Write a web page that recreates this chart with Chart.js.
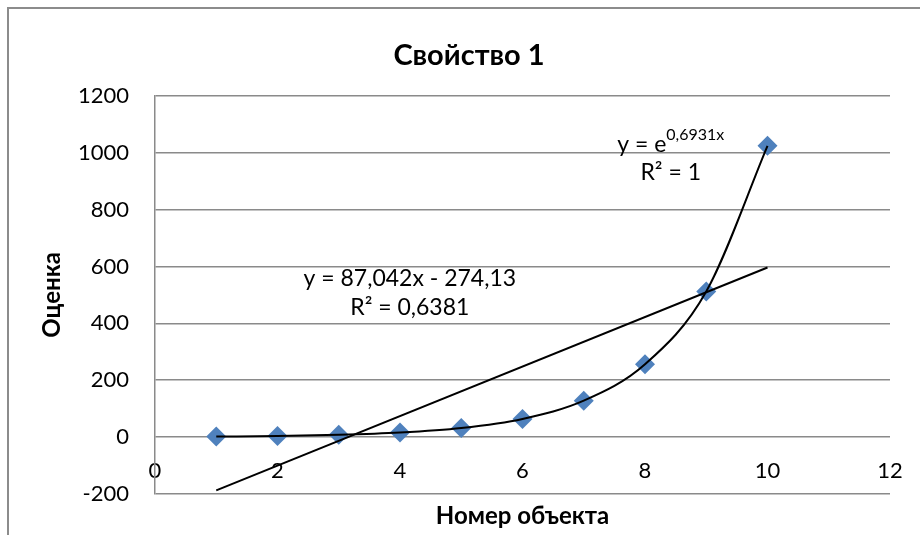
<!DOCTYPE html>
<html>
<head>
<meta charset="utf-8">
<script src="https://cdn.jsdelivr.net/npm/chart.js@4.4.1/dist/chart.umd.min.js"></script>
<style>
  body { margin: 0; background: #fff; }
  #wrap { position: relative; width: 920px; height: 535px; overflow: hidden; }
  #frame { position: absolute; left: 7px; top: 7px; width: 1000px; height: 1000px;
           border-left: 2px solid #8c8c8c; border-top: 2px solid #8c8c8c; }
  canvas { position: absolute; left: 0; top: 0; }
</style>
</head>
<body>
<div id="wrap">
  <div id="frame"></div>
  <canvas id="chart" width="920" height="535"></canvas>
</div>
<script>
// data
const objectNumbers = [1, 2, 3, 4, 5, 6, 7, 8, 9, 10];
const scores = [2, 4, 8, 16, 32, 64, 128, 256, 512, 1024];

// axis ranges
const xMin = 0, xMax = 12, xStep = 2;
const yMin = -200, yMax = 1200, yStep = 200;

// trendline equations as printed on the chart
const linSlope = 87.042;
const linIntercept = -274.13;
const linR2 = 0.6381;
const expCoef = 0.6931;
const expR2 = 1;

const FONT = "Lato, 'Open Sans', sans-serif";
const GRID = '#8a8a8a';
const TXT = 23;

const num = v => String(v).replace('.', ',');

const linFirst = objectNumbers[0];
const linLast = objectNumbers[objectNumbers.length - 1];
const linPoints = [
    { x: linFirst, y: linSlope * linFirst + linIntercept },
    { x: linLast, y: linSlope * linLast + linIntercept }
];
const points = objectNumbers.map((x, i) => ({ x: x, y: scores[i] }));

// trendline labels, anchored in data units
const trendLabels = {
    id: 'trendLabels',
    afterDatasetsDraw(chart) {
        const { ctx, scales: { x, y } } = chart;
        ctx.save();
        ctx.fillStyle = '#000';
        ctx.textBaseline = 'middle';
        ctx.textAlign = 'center';
        ctx.font = TXT + 'px ' + FONT;

        const lx = x.getPixelForValue(4.16);
        ctx.fillText('y = ' + num(linSlope) + 'x - ' + num(-linIntercept), lx, y.getPixelForValue(559));
        ctx.fillText('R² = ' + num(linR2), lx, y.getPixelForValue(457));

        const ex = x.getPixelForValue(8.42);
        const ey = y.getPixelForValue(1027);
        const base = 'y = e';
        const sup = num(expCoef) + 'x';
        const wb = ctx.measureText(base).width;
        ctx.font = '16px ' + FONT;
        const ws = ctx.measureText(sup).width;
        const left = ex - (wb + ws) / 2;
        ctx.textAlign = 'left';
        ctx.font = TXT + 'px ' + FONT;
        ctx.fillText(base, left, ey);
        ctx.font = '16px ' + FONT;
        ctx.fillText(sup, left + wb, ey - 10);

        ctx.textAlign = 'center';
        ctx.font = TXT + 'px ' + FONT;
        ctx.fillText('R² = ' + num(expR2), ex, y.getPixelForValue(929));
        ctx.restore();
    }
};

new Chart(document.getElementById('chart'), {
    type: 'scatter',
    data: {
        datasets: [{
            // linear trendline
            data: linPoints,
            showLine: true,
            borderColor: '#000',
            borderWidth: 2,
            pointRadius: 0,
            order: 0
        }, {
            // exponential trendline
            data: points,
            showLine: true,
            cubicInterpolationMode: 'monotone',
            borderColor: '#000',
            borderWidth: 2,
            pointRadius: 0,
            order: 1
        }, {
            data: points,
            showLine: false,
            pointStyle: 'rectRot',
            pointRadius: 10,
            pointBackgroundColor: '#4f81bd',
            pointBorderWidth: 0,
            order: 2
        }]
    },
    options: {
        responsive: false,
        animation: false,
        layout: { padding: { left: 48, right: 30, top: 0, bottom: 0 } },
        plugins: {
            legend: { display: false },
            tooltip: { enabled: false },
            title: {
                display: true,
                text: 'Свойство 1',
                color: '#000',
                font: { family: FONT, size: 29, weight: 'bold' },
                padding: { top: 38, bottom: 23 }
            }
        },
        scales: {
            x: {
                type: 'linear',
                min: xMin,
                max: xMax,
                ticks: {
                    stepSize: xStep,
                    mirror: true,
                    padding: 10,
                    color: '#000',
                    font: { family: FONT, size: 22 },
                    callback: v => String(v)
                },
                grid: { display: false, drawTicks: false },
                border: { display: false },
                title: {
                    display: true,
                    text: 'Номер объекта',
                    color: '#000',
                    font: { family: FONT, size: 24, weight: 'bold' },
                    padding: { top: 0, bottom: 4 }
                },
                afterFit(s) { s.height = 41; s.paddingLeft = 0; s.paddingRight = 0; }
            },
            y: {
                min: yMin,
                max: yMax,
                ticks: {
                    stepSize: yStep,
                    padding: 26,
                    color: '#000',
                    font: { family: FONT, size: 22 },
                    callback: v => String(v)
                },
                grid: { color: GRID, lineWidth: 1.5, drawTicks: false },
                border: { display: true, color: GRID, width: 1.5 },
                title: {
                    display: true,
                    text: 'Оценка',
                    color: '#000',
                    font: { family: FONT, size: 24, weight: 'bold' },
                    padding: { top: -10, bottom: 0 }
                },
                afterFit(s) { s.width = 107; s.paddingTop = 0; s.paddingBottom = 0; }
            }
        }
    },
    plugins: [trendLabels]
});
</script>
</body>
</html>
